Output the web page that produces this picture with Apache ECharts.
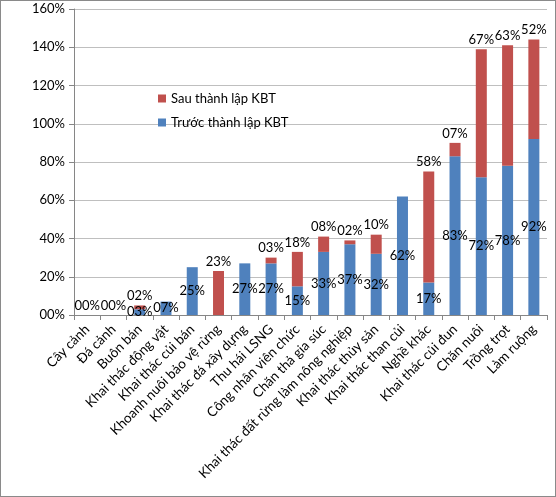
<!DOCTYPE html>
<html>
<head>
<meta charset="utf-8">
<script src="https://cdn.jsdelivr.net/npm/echarts@6/dist/echarts.min.js"></script>
<style>
    html, body { margin: 0; padding: 0; background: #fff; }
    #chart { width: 556px; height: 497px; box-sizing: border-box; border: 1px solid #8a8a8a; }
</style>
</head>
<body>
<div id="chart"></div>
<script>
// Categories along the x axis
var categories = [
    'Cây cảnh', 'Đá cảnh', 'Buôn bán', 'Khai thác động vật', 'Khai thác củi bán',
    'Khoanh nuôi bảo vệ rừng', 'Khai thác đá xây dựng', 'Thu hái LSNG',
    'Công nhân viên chức', 'Chăn thả gia súc', 'Khai thác đất rừng làm nông nghiệp',
    'Khai thác thủy sản', 'Khai thác than củi', 'Nghề khác', 'Khai thác củi đun',
    'Chăn nuôi', 'Trồng trọt', 'Làm ruộng'
];
// Before (blue) and after (red) establishment of the reserve, in %
var truoc = [0, 0, 3, 7, 25, 0, 27, 27, 15, 33, 37, 32, 62, 17, 83, 72, 78, 92];
var sau = [0, 0, 2, 0, 0, 23, 0, 3, 18, 8, 2, 10, 0, 58, 7, 67, 63, 52];
var yTicks = [0, 20, 40, 60, 80, 100, 120, 140, 160];

function pct(v) {
    return (v < 10 ? '0' : '') + v + '%';
}

var chart = echarts.init(document.getElementById('chart'));
var font = 'Lato, "Open Sans", sans-serif';

var option = {
    animation: false,
    textStyle: { fontFamily: font },
    color: ['#C0504D', '#4F81BD'],
    legend: {
        orient: 'vertical',
        left: 152,
        top: 86,
        itemWidth: 8,
        itemHeight: 8,
        itemGap: 11,
        icon: 'rect',
        textStyle: { fontSize: 13, color: '#000', fontFamily: font },
        data: ['Sau thành lập KBT', 'Trước thành lập KBT']
    },
    grid: { left: 73, right: 8, top: 8, bottom: 181, containLabel: false },
    xAxis: {
        type: 'category',
        data: categories,
        axisLine: { lineStyle: { color: '#868686' } },
        axisTick: { show: true, length: 5, lineStyle: { color: '#868686' } },
        axisLabel: {
            rotate: 45,
            interval: 0,
            margin: 12,
            fontSize: 13.5,
            color: '#000',
            fontFamily: font
        }
    },
    yAxis: {
        type: 'value',
        min: yTicks[0],
        max: yTicks[yTicks.length - 1],
        interval: 20,
        axisLine: { show: true, lineStyle: { color: '#868686' } },
        axisTick: { show: true, length: 5, lineStyle: { color: '#868686' } },
        axisLabel: {
            margin: 9,
            fontSize: 13,
            color: '#000',
            fontFamily: font,
            formatter: function (v) { return pct(v); }
        },
        splitLine: { lineStyle: { color: '#bfbfbf' } }
    },
    series: [
        {
            name: 'Trước thành lập KBT',
            type: 'bar',
            stack: 'total',
            barWidth: 11,
            itemStyle: { color: '#4F81BD' },
            label: {
                show: true,
                position: 'inside',
                fontSize: 13,
                color: '#000',
                fontFamily: font,
                formatter: function (p) { return p.value === 0 ? '' : pct(p.value); }
            },
            data: truoc
        },
        {
            name: 'Sau thành lập KBT',
            type: 'bar',
            stack: 'total',
            barWidth: 11,
            itemStyle: { color: '#C0504D' },
            label: {
                show: true,
                position: 'top',
                distance: 3,
                fontSize: 13,
                color: '#000',
                fontFamily: font,
                formatter: function (p) {
                    if (p.value === 0 && truoc[p.dataIndex] !== 0) return '';
                    return pct(p.value);
                }
            },
            data: sau
        }
    ]
};
chart.setOption(option);
</script>
</body>
</html>
